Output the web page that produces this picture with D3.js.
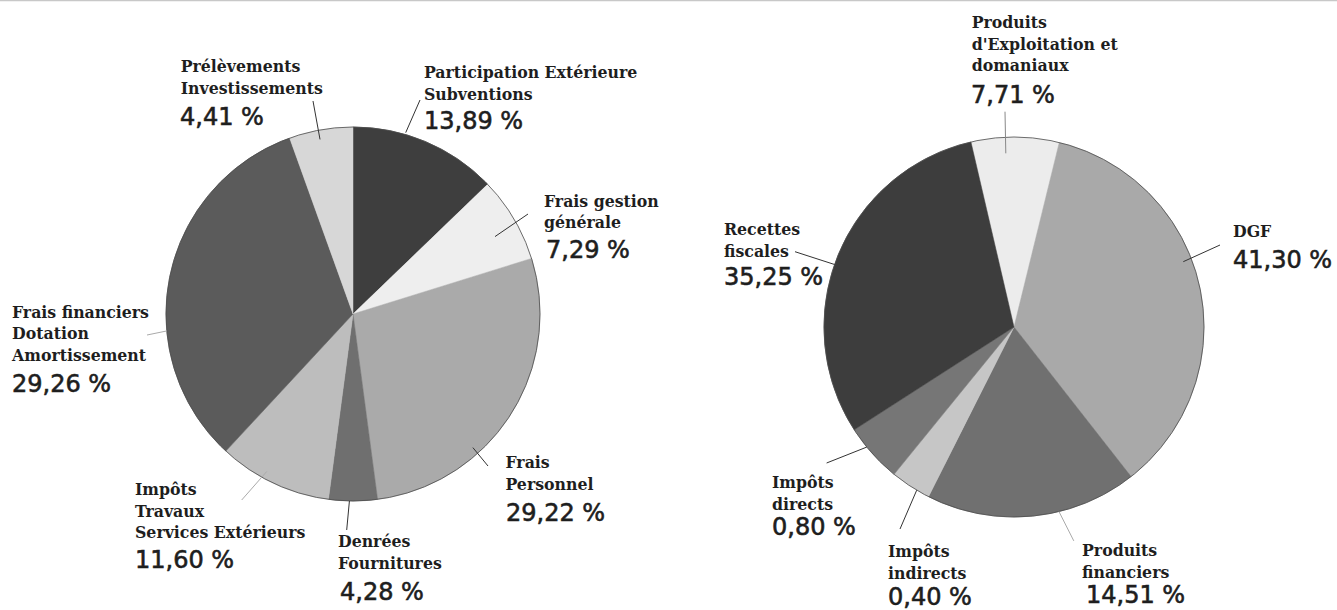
<!DOCTYPE html>
<html>
<head>
<meta charset="utf-8">
<title>Répartition dépenses / recettes</title>
<style>
html, body { margin: 0; padding: 0; background: #ffffff; }
#chart { width: 1337px; height: 610px; }
.lbl { font-family: "DejaVu Serif Condensed", "DejaVu Serif", serif; font-stretch: condensed; font-weight: bold; font-size: 17.5px; fill: #1e1e1e; }
.pct { font-family: "DejaVu Sans", sans-serif; font-size: 24px; fill: #1e1e1e; stroke: #1e1e1e; stroke-width: 0.6; }
</style>
<script src="https://d3js.org/d3.v7.min.js"></script>
</head>
<body>
<div id="chart"></div>
<script>
// ---- left pie : dépenses ----
var leftNames = [
  ["Participation Extérieure", "Subventions"],
  ["Frais gestion", "générale"],
  ["Frais", "Personnel"],
  ["Denrées", "Fournitures"],
  ["Impôts", "Travaux", "Services Extérieurs"],
  ["Frais financiers", "Dotation", "Amortissement"],
  ["Prélèvements", "Investissements"]
];
var leftPct = ["13,89 %", "7,29 %", "29,22 %", "4,28 %", "11,60 %", "29,26 %", "4,41 %"];
// slice sizes as drawn in the picture (share of the circle)
var leftShares = [12.8, 7.4, 27.7, 4.2, 9.8, 32.6, 5.5];

// ---- right pie : recettes ----
var rightNames = [
  ["Produits", "d'Exploitation et", "domaniaux"],
  ["DGF"],
  ["Produits", "financiers"],
  ["Impôts", "indirects"],
  ["Impôts", "directs"],
  ["Recettes", "fiscales"]
];
var rightPct = ["7,71 %", "41,30 %", "14,51 %", "0,40 %", "0,80 %", "35,25 %"];
var rightShares = [7.47, 35.6, 18.0, 3.44, 5.03, 30.46];

var leftColors = ["#3e3e3e", "#eeeeee", "#aaaaaa", "#6f6f6f", "#bdbdbd", "#5b5b5b", "#d7d7d7"];
var rightColors = ["#ececec", "#a9a9a9", "#707070", "#c6c6c6", "#767676", "#3d3d3d"];

// label placement: x, first baseline, pct x, pct baseline, leader outer end, leader inner (angle deg, radius factor), line colour
var leftLayout = [
  { x: 424, y: 78, px: 424, py: 128.5, ox: 420, oy: 100, a: 16.2, k: 1.01, c: "#333" },
  { x: 544, y: 206.5, px: 546, py: 258, ox: 528, oy: 214, a: 61.4, k: 0.865, c: "#333" },
  { x: 505.5, y: 468, px: 506, py: 520.5, ox: 488, oy: 466, a: 138.1, k: 0.96, c: "#333" },
  { x: 338, y: 547, px: 340, py: 600, ox: 346.7, oy: 530, a: 181.1, k: 1.0, c: "#333" },
  { x: 135, y: 495, px: 135, py: 568, ox: 241.7, oy: 500, a: 208.7, k: 0.96, c: "#aaa" },
  { x: 12, y: 317.5, px: 12, py: 392.3, ox: 147, oy: 335, a: 264.8, k: 1.0, c: "#aaa" },
  { x: 180.7, y: 72.3, px: 180, py: 125, ox: 313, oy: 101, a: 349.3, k: 0.95, c: "#333" }
];
var rightLayout = [
  { x: 971.7, y: 28.3, px: 971, py: 102.7, ox: 1005, oy: 111.7, a: 357.3, k: 0.915, c: "#888" },
  { x: 1233, y: 237.3, px: 1233, py: 267.7, ox: 1220, oy: 245, a: 68.9, k: 0.955, c: "#333" },
  { x: 1082, y: 556.4, px: 1086, py: 603, ox: 1073.8, oy: 540.9, a: 166.3, k: 1.0, c: "#aaa" },
  { x: 888, y: 557, px: 888, py: 605, ox: 900, oy: 529, a: 210.8, k: 1.0, c: "#333" },
  { x: 772, y: 488, px: 772, py: 535, ox: 826.6, oy: 463, a: 230.8, k: 1.0, c: "#333" },
  { x: 724, y: 235, px: 724, py: 285, ox: 795, oy: 251.7, a: 289.2, k: 1.0, c: "#333" }
];

var svg = d3.select("#chart").append("svg")
  .attr("width", 1337)
  .attr("height", 610);

// faint scan border at the top
svg.append("line")
  .attr("x1", 0).attr("x2", 1337).attr("y1", 0.5).attr("y2", 0.5)
  .attr("stroke", "#c8c8c8").attr("stroke-width", 1.5);

var rad = Math.PI / 180;

function drawPie(cx, cy, r, shares, colors, names, pcts, layout, start) {
  var pie = d3.pie().sort(null).value(function(d) { return d; })
    .startAngle(start * rad).endAngle(start * rad + 2 * Math.PI);
  var arc = d3.arc().innerRadius(0).outerRadius(r);

  var g = svg.append("g").attr("transform", "translate(" + cx + "," + cy + ")");

  g.selectAll("path.slice")
    .data(pie(shares))
    .enter()
    .append("path")
    .attr("class", "slice")
    .attr("d", arc)
    .attr("fill", function(d, i) { return colors[i]; })
    .attr("stroke", function(d, i) { return colors[i]; })
    .attr("stroke-width", 0.5);

  g.append("circle")
    .attr("r", r)
    .attr("fill", "none")
    .attr("stroke", "#4a4a4a")
    .attr("stroke-width", 0.8);

  // leader lines
  layout.forEach(function(L) {
    var ix = cx + Math.sin(L.a * rad) * r * L.k;
    var iy = cy - Math.cos(L.a * rad) * r * L.k;
    svg.append("line")
      .attr("x1", L.ox).attr("y1", L.oy)
      .attr("x2", ix).attr("y2", iy)
      .attr("stroke", L.c)
      .attr("stroke-width", 1);
  });

  // labels
  names.forEach(function(lines, i) {
    var L = layout[i];
    var t = svg.append("text").attr("class", "lbl");
    lines.forEach(function(s, j) {
      t.append("tspan").attr("x", L.x).attr("y", L.y + j * 21.5).text(s);
    });
    svg.append("text").attr("class", "pct")
      .attr("x", L.px).attr("y", L.py)
      .text(pcts[i]);
  });
}

drawPie(353, 314, 187, leftShares, leftColors, leftNames, leftPct, leftLayout, 0);
drawPie(1014, 327, 190, rightShares, rightColors, rightNames, rightPct, rightLayout, -13.1);
</script>
</body>
</html>
